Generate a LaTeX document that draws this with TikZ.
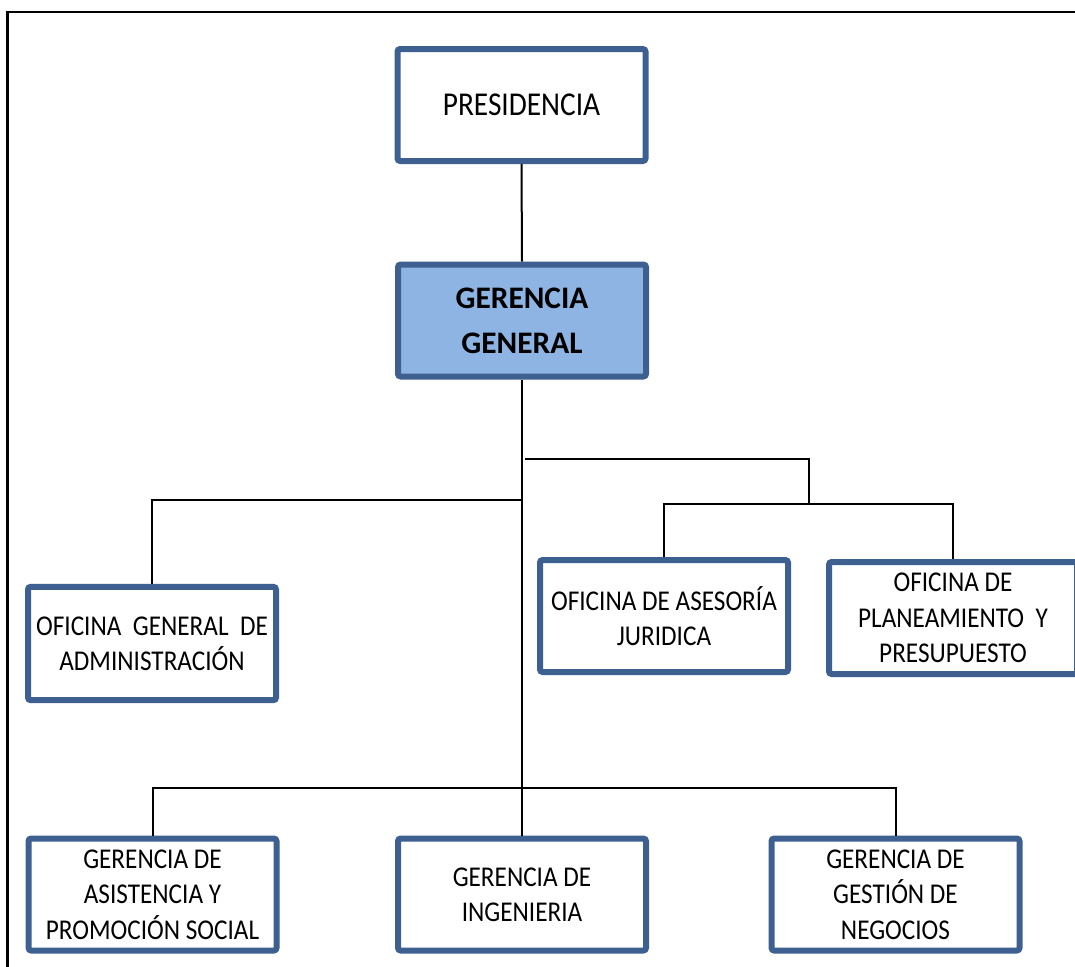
\documentclass[tikz,border=0pt]{standalone}
\usepackage{fontspec}
\setmainfont{Carlito}
\newfontfamily\narrowfont{Carlito}[FakeStretch=0.88]
\definecolor{boxblue}{RGB}{61,96,145}
\definecolor{headfill}{RGB}{142,180,227}
\begin{document}
\begin{tikzpicture}[x=0.75pt,y=-0.75pt,
  unit/.style={draw=boxblue,line width=4.5pt,rounded corners=2pt,fill=white,
    minimum width=186pt,minimum height=84pt,inner sep=0pt,align=center,
    font=\narrowfont\fontsize{21.5pt}{26.5pt}\selectfont},
  head/.style={unit,fill=headfill,font=\bfseries\fontsize{23.5pt}{34pt}\selectfont},
  link/.style={draw=black,line width=1.5pt}]
\useasboundingbox (0,0) rectangle (1075,967);

% outer frame
\draw[line width=1.6pt] (7.5,975) -- (7.5,12) -- (1085,12);

% units
\node[unit,font=\narrowfont\fontsize{25pt}{30pt}\selectfont] (pres) at (521.5,105) {PRESIDENCIA};
\node[head] (gg) at (522,320.5) {GERENCIA\\GENERAL};
\node[unit,minimum height=85pt] (adm) at (152,643.5) {OFICINA\ \ GENERAL\ \ DE\\ADMINISTRACIÓN};
\node[unit] (ase) at (664,616) {OFICINA DE ASESORÍA\\JURIDICA};
\node[unit] (pla) at (953,618) {OFICINA DE\\PLANEAMIENTO\ \ Y\\PRESUPUESTO};
\node[unit] (asi) at (152.5,894.5) {GERENCIA DE\\ASISTENCIA Y\\PROMOCIÓN SOCIAL};
\node[unit] (ing) at (522,894.5) {GERENCIA DE\\INGENIERIA};
\node[unit] (neg) at (895.5,894.5) {GERENCIA DE\\GESTIÓN DE\\NEGOCIOS};

% junction points
\coordinate (jl) at (521.5,500);
\coordinate (jr) at (525,459);
\coordinate (rb) at (809,504);
\coordinate (jb) at (521.5,788);

% connectors
\draw[link] (pres.south) -- (gg.north);
\draw[link] (gg.south) -- (ing.north);
\draw[link] (jl) -| (adm.north);
\draw[link] (jr) -| (rb);
\draw[link] (ase.north) |- (rb) -| (pla.north);
\draw[link] (asi.north) |- (jb) -| (neg.north);
\end{tikzpicture}
\end{document}
